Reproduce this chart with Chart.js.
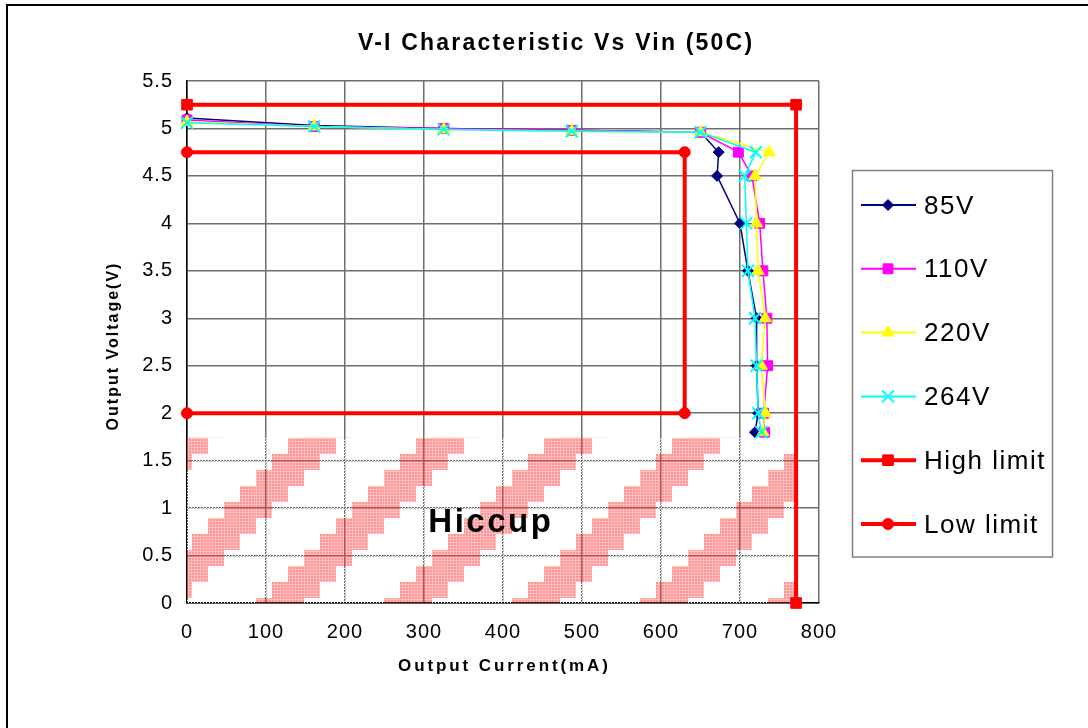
<!DOCTYPE html>
<html>
<head>
<meta charset="utf-8">
<title>V-I Characteristic Vs Vin (50C)</title>
<script src="https://cdn.jsdelivr.net/npm/chart.js"></script>
<style>
  html, body { margin: 0; padding: 0; background: #fff; }
  #wrap { width: 1088px; height: 728px; }
</style>
</head>
<body>
<div id="wrap"><canvas id="chart" width="1088" height="728"></canvas></div>
<script>
  const FONT = "'Liberation Sans', Arial, Helvetica, sans-serif";

  // Axis ticks
  const currentTicks = [0, 100, 200, 300, 400, 500, 600, 700, 800];
  const voltageTicks = [0, 0.5, 1, 1.5, 2, 2.5, 3, 3.5, 4, 4.5, 5, 5.5];

  // Measured curves: output current (mA) and output voltage (V) per input voltage
  const current85 = [0, 161, 325, 487, 650, 673, 671, 700, 710, 721, 721, 723, 719];
  const volt85 = [5.11, 5.03, 5.0, 4.98, 4.96, 4.75, 4.5, 4.0, 3.5, 3.0, 2.5, 2.0, 1.8];

  const current110 = [0, 161, 325, 487, 650, 698, 715, 725, 729, 734, 735, 730, 731];
  const volt110 = [5.09, 5.02, 5.0, 4.98, 4.96, 4.75, 4.5, 4.0, 3.5, 3.0, 2.5, 2.0, 1.8];

  const current220 = [0, 161, 325, 487, 650, 737, 719, 721, 723, 732, 727, 732, 729];
  const volt220 = [5.07, 5.02, 4.99, 4.97, 4.96, 4.75, 4.5, 4.0, 3.5, 3.0, 2.5, 2.0, 1.8];

  const current264 = [0, 161, 325, 487, 650, 720, 706, 708, 710, 719, 721, 723, 727];
  const volt264 = [5.06, 5.02, 4.99, 4.97, 4.96, 4.75, 4.5, 4.0, 3.5, 3.0, 2.5, 2.0, 1.8];

  // Spec limits
  const highCurrent = [0, 771, 771];
  const highVolt = [5.25, 5.25, 0];
  const lowCurrent = [0, 630, 630, 0];
  const lowVolt = [4.75, 4.75, 2.0, 2.0];

  // Hiccup zone (shaded down to 0 V)
  const hiccupCurrent = [0, 771];
  const hiccupVolt = [1.74, 1.74];
  const hiccupLabel = { current: 383, volt: 0.75, text: "Hiccup" };

  function points(xs, ys) {
    return xs.map((x, i) => ({ x: x, y: ys[i] }));
  }

  // Stair-stepped diagonal hatch used for the hiccup zone
  function makeHatch() {
    const size = 128, cell = 16;
    const phaseX = 32, phaseY = 54;
    const tile = document.createElement("canvas");
    tile.width = size;
    tile.height = size;
    const tctx = tile.getContext("2d");
    const img = tctx.createImageData(size, size);
    for (let py = 0; py < size; py++) {
      for (let px = 0; px < size; px++) {
        const c = Math.floor((px - phaseX) / cell);
        const r = Math.floor((py - phaseY) / cell);
        const k = (((c + r) % 8) + 8) % 8;
        const i = (py * size + px) * 4;
        if (k < 3) {
          const light = px % 3 === 0 || py % 3 === 0;
          img.data[i] = 255;
          img.data[i + 1] = 60;
          img.data[i + 2] = 60;
          img.data[i + 3] = Math.round((light ? 0.33 : 0.55) * 255);
        } else {
          img.data[i] = 255;
          img.data[i + 1] = 255;
          img.data[i + 2] = 255;
          img.data[i + 3] = (px + py) % 3 === 0 ? 255 : 0;
        }
      }
    }
    tctx.putImageData(img, 0, 0);
    return tctx.createPattern(tile, "repeat");
  }

  const common = { showLine: true, clip: false, tension: 0, pointBorderWidth: 1 };

  const datasets = [
    Object.assign({}, common, {
      label: "85V", data: points(current85, volt85),
      borderColor: "#000080", backgroundColor: "#000080", borderWidth: 1.5,
      pointStyle: "rectRot", pointRadius: 5.5, order: 3, legendWidth: 2
    }),
    Object.assign({}, common, {
      label: "110V", data: points(current110, volt110),
      borderColor: "#ff00ff", backgroundColor: "#ff00ff", borderWidth: 1.5,
      pointStyle: "rect", pointRadius: 7, order: 2, legendWidth: 2
    }),
    Object.assign({}, common, {
      label: "220V", data: points(current220, volt220),
      borderColor: "#ffff00", backgroundColor: "#ffff00", borderWidth: 1.5,
      pointStyle: "triangle", pointRadius: 7, order: 1, legendWidth: 2
    }),
    Object.assign({}, common, {
      label: "264V", data: points(current264, volt264),
      borderColor: "#00ffff", backgroundColor: "#00ffff", borderWidth: 1.5,
      pointStyle: "crossRot", pointRadius: 8.5, pointBorderWidth: 2, order: 0, legendWidth: 2
    }),
    Object.assign({}, common, {
      label: "High limit", data: points(highCurrent, highVolt),
      borderColor: "#ff0000", backgroundColor: "#ff0000", borderWidth: 4,
      pointStyle: "rect", pointRadius: 7.5, order: 4, legendWidth: 4
    }),
    Object.assign({}, common, {
      label: "Low limit", data: points(lowCurrent, lowVolt),
      borderColor: "#ff0000", backgroundColor: "#ff0000", borderWidth: 4,
      pointStyle: "circle", pointRadius: 5.5, order: 5, legendWidth: 4
    }),
    {
      label: "Hiccup", data: points(hiccupCurrent, hiccupVolt),
      showLine: true, fill: "origin", backgroundColor: makeHatch(),
      borderColor: "rgba(0,0,0,0)", borderWidth: 0, pointRadius: 0,
      order: 9, noLegend: true
    }
  ];

  // White page, outer frame, and tick label spacing
  const framePlugin = {
    id: "frame",
    beforeDraw(chart) {
      const ctx = chart.ctx;
      ctx.save();
      ctx.fillStyle = "#fff";
      ctx.fillRect(0, 0, chart.width, chart.height);
      ctx.strokeStyle = "#000";
      ctx.lineWidth = 2;
      ctx.beginPath();
      ctx.moveTo(7, chart.height + 2);
      ctx.lineTo(7, 5);
      ctx.lineTo(chart.width + 2, 5);
      ctx.stroke();
      ctx.restore();
      ctx.letterSpacing = "1px";
    }
  };

  function spacedText(ctx, text, x, y, font, spacing, align) {
    ctx.font = font;
    ctx.letterSpacing = spacing + "px";
    ctx.textAlign = align || "left";
    ctx.textBaseline = "alphabetic";
    // trailing letter spacing would push centred text left
    const dx = align === "center" ? spacing / 2 : 0;
    ctx.fillText(text, x + dx, y);
  }

  // Title, axis titles, zone label and the boxed legend
  const textPlugin = {
    id: "texts",
    afterDraw(chart) {
      const ctx = chart.ctx;
      const xs = chart.scales.x, ys = chart.scales.y;
      const area = chart.chartArea;
      ctx.save();
      ctx.fillStyle = "#000";

      spacedText(ctx, "V-I Characteristic Vs Vin (50C)", 555, 50, "bold 23px " + FONT, 2.2, "center");
      spacedText(ctx, "Output Current(mA)", (area.left + area.right) / 2, 671, "bold 17px " + FONT, 2.9, "center");

      ctx.save();
      ctx.translate(118, 347);
      ctx.rotate(-Math.PI / 2);
      spacedText(ctx, "Output Voltage(V)", 0, 0, "bold 16px " + FONT, 2, "center");
      ctx.restore();

      spacedText(ctx, hiccupLabel.text, xs.getPixelForValue(hiccupLabel.current),
        ys.getPixelForValue(hiccupLabel.volt), "bold 33px " + FONT, 2.5, "center");

      // legend box
      ctx.strokeStyle = "#808080";
      ctx.lineWidth = 1.5;
      ctx.strokeRect(852.5, 170.5, 200, 386.5);

      const shown = chart.data.datasets.filter((d) => !d.noLegend);
      shown.forEach((d, i) => {
        const y = 205 + i * 63.8;
        ctx.strokeStyle = d.borderColor;
        ctx.lineWidth = d.legendWidth;
        ctx.beginPath();
        ctx.moveTo(861, y);
        ctx.lineTo(916, y);
        ctx.stroke();

        ctx.fillStyle = d.backgroundColor;
        ctx.lineWidth = d.pointBorderWidth || 1;
        Chart.helpers.drawPoint(ctx, {
          pointStyle: d.pointStyle, radius: d.pointRadius, rotation: 0,
          borderWidth: d.pointBorderWidth || 1
        }, 888, y);

        ctx.fillStyle = "#000";
        spacedText(ctx, d.label, 924, y + 8.5, "26px " + FONT, 1.5, "left");
      });
      ctx.restore();
    }
  };

  Chart.defaults.color = "#000";
  Chart.defaults.font.family = FONT;

  new Chart(document.getElementById("chart"), {
    type: "scatter",
    data: { datasets: datasets },
    options: {
      responsive: false,
      animation: false,
      events: [],
      layout: { padding: { left: 0, top: 81, right: 269, bottom: 0 } },
      plugins: {
        legend: { display: false },
        title: { display: false },
        tooltip: { enabled: false }
      },
      scales: {
        x: {
          type: "linear",
          min: currentTicks[0],
          max: currentTicks[currentTicks.length - 1],
          afterFit(s) { s.height = 125; },
          ticks: {
            stepSize: currentTicks[1] - currentTicks[0],
            autoSkip: false, maxRotation: 0,
            padding: 17,
            font: { size: 20 }
          },
          grid: { color: "#6e6e6e", lineWidth: 1.5, drawTicks: false },
          border: { color: "#000", width: 1.5 }
        },
        y: {
          type: "linear",
          min: voltageTicks[0],
          max: voltageTicks[voltageTicks.length - 1],
          afterFit(s) { s.width = 187; },
          ticks: {
            stepSize: voltageTicks[1] - voltageTicks[0],
            autoSkip: false,
            padding: 14,
            font: { size: 20 },
            // plain numbers: 1, 1.5, 2 ...
            callback: (v) => String(Math.round(v * 10) / 10)
          },
          grid: { color: "#6e6e6e", lineWidth: 1.5, drawTicks: false },
          border: { color: "#000", width: 1.5 }
        }
      }
    },
    plugins: [framePlugin, textPlugin]
  });
</script>
</body>
</html>
